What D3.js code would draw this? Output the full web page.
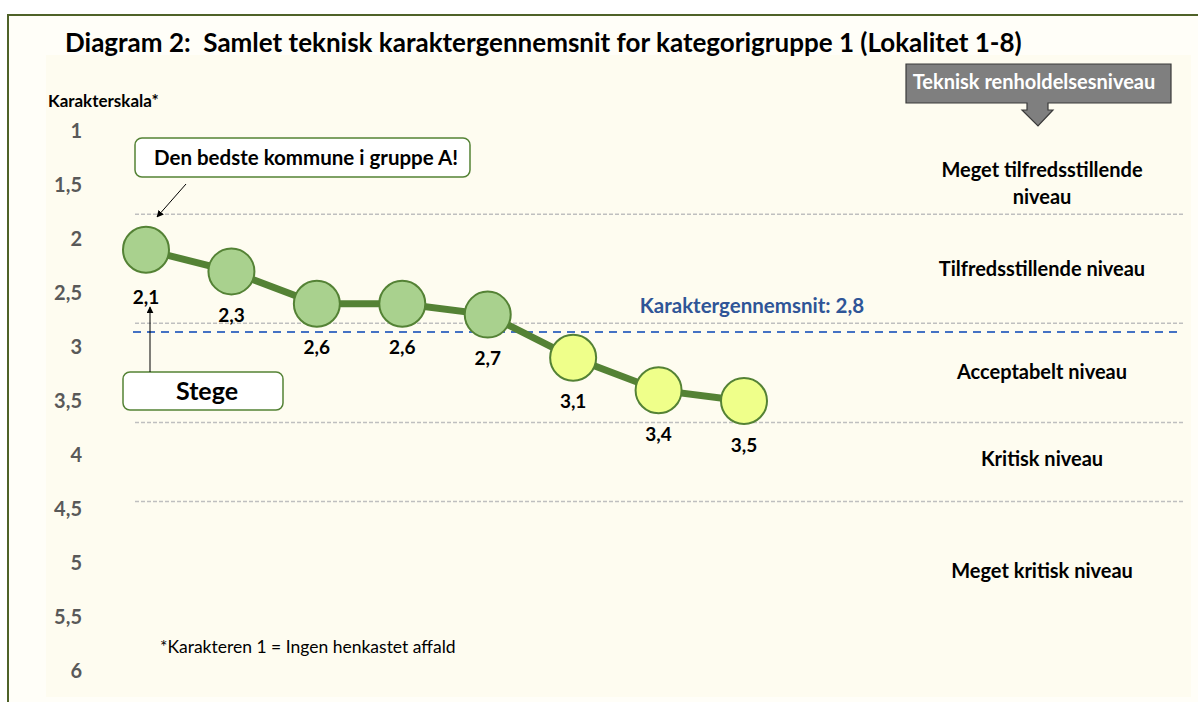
<!DOCTYPE html>
<html>
<head>
<meta charset="utf-8">
<script src="https://cdn.jsdelivr.net/npm/d3@7"></script>
<style>
  body { margin: 0; background: #ffffff; }
  text { font-family: Lato, 'Open Sans', sans-serif; white-space: pre; }
</style>
</head>
<body>
<script>
/* DATA */
var localities = ['L1', 'L2', 'L3', 'L4', 'L5', 'L6', 'L7', 'L8'];
var grades = [2.1, 2.3, 2.6, 2.6, 2.7, 3.1, 3.4, 3.5];
var gradeLabels = ['2,1', '2,3', '2,6', '2,6', '2,7', '3,1', '3,4', '3,5'];
var yTicks = [1, 1.5, 2, 2.5, 3, 3.5, 4, 4.5, 5, 5.5, 6];
var levelBounds = [1.77, 2.78, 3.70, 4.43];
var levelNames = [['Meget tilfredsstillende', 'niveau'], ['Tilfredsstillende niveau'], ['Acceptabelt niveau'], ['Kritisk niveau'], ['Meget kritisk niveau']];
var levelPos = [1.36, 2.28, 3.23, 4.04, 5.07];
var averageGrade = 2.86;
var averageLabel = 'Karaktergennemsnit: 2,8';

/* SETUP */
var width = 1198, height = 702;
var greenFill = '#a9d18e', yellowFill = '#efff8a', darkGreen = '#548235';

var y = d3.scaleLinear().domain([1, 6]).range([131, 671]);
var x = d3.scalePoint().domain(localities).range([146, 744]);

const svg = d3.select('body').append('svg')
    .attr('width', width)
    .attr('height', height);

// arrow marker
svg.append('defs').append('marker')
    .attr('id', 'arrow')
    .attr('viewBox', '0 0 10 10')
    .attr('refX', 9).attr('refY', 5)
    .attr('markerWidth', 7).attr('markerHeight', 7)
    .attr('orient', 'auto')
  .append('path')
    .attr('d', 'M0,0 L10,5 L0,10 z')
    .attr('fill', '#000');

// frame and backgrounds
svg.append('rect')
    .attr('x', 8).attr('y', 15)
    .attr('width', width).attr('height', height)
    .attr('fill', '#fffef8')
    .attr('stroke', '#4f6228')
    .attr('stroke-width', 2);

svg.append('rect')
    .attr('x', 46).attr('y', 55)
    .attr('width', 1145).attr('height', 642)
    .attr('fill', '#fefcf0');

svg.append('text')
    .attr('x', 65).attr('y', 52)
    .style('font-size', '26px')
    .style('font-weight', 'bold')
    .attr('fill', '#000')
    .text('Diagram 2:  Samlet teknisk karaktergennemsnit for kategorigruppe 1 (Lokalitet 1-8)');

// y axis labels
svg.append('text')
    .attr('x', 48).attr('y', 107)
    .style('font-size', '17px')
    .style('font-weight', 'bold')
    .text('Karakterskala*');

svg.append('g').selectAll('text')
    .data(yTicks)
    .join('text')
    .attr('x', 82)
    .attr('y', d => y(d))
    .attr('dy', '0.35em')
    .attr('text-anchor', 'end')
    .style('font-size', '20px')
    .style('font-weight', 'bold')
    .attr('fill', '#595959')
    .text(d => String(d).replace('.', ','));

// level boundaries
svg.append('g').selectAll('line')
    .data(levelBounds)
    .join('line')
    .attr('x1', 135).attr('x2', 1183)
    .attr('y1', d => y(d)).attr('y2', d => y(d))
    .attr('stroke', '#bfbfbf')
    .attr('stroke-width', 1.5)
    .attr('stroke-dasharray', '4,2');

// average line
svg.append('line')
    .attr('x1', 133).attr('x2', 1180)
    .attr('y1', y(averageGrade)).attr('y2', y(averageGrade))
    .attr('stroke', '#4472c4')
    .attr('stroke-width', 2)
    .attr('stroke-dasharray', '8,6');

svg.append('text')
    .attr('x', 752).attr('y', y(averageGrade) - 26)
    .attr('dy', '0.35em')
    .attr('text-anchor', 'middle')
    .style('font-size', '20.5px')
    .style('font-weight', 'bold')
    .attr('fill', '#2f5597')
    .text(averageLabel);

// level names
const levelText = svg.append('g').selectAll('text')
    .data(levelNames)
    .join('text')
    .attr('x', 1042)
    .attr('y', (d, i) => y(levelPos[i]))
    .attr('text-anchor', 'middle')
    .style('font-size', '20px')
    .style('font-weight', 'bold');
levelText.selectAll('tspan')
    .data(d => d)
    .join('tspan')
    .attr('x', 1042)
    .attr('dy', (d, i) => i === 0 ? '0.35em' : '27px')
    .text(d => d);

// header callout
svg.append('path')
    .attr('d', 'M906,64 H1171 V103 H1048 V110 H1053 L1038,126 L1022,110 H1027 V103 H906 Z')
    .attr('fill', '#7f7f7f')
    .attr('stroke', '#3a3a3a')
    .attr('stroke-width', 1.2);
svg.append('text')
    .attr('x', 1034).attr('y', 82)
    .attr('dy', '0.35em')
    .attr('text-anchor', 'middle')
    .style('font-size', '20px')
    .style('font-weight', 'bold')
    .attr('fill', '#ffffff')
    .text('Teknisk renholdelsesniveau');

// data line
svg.append('path')
    .datum(grades)
    .attr('fill', 'none')
    .attr('stroke', darkGreen)
    .attr('stroke-width', 7)
    .attr('d', d3.line().x((d, i) => x(localities[i])).y(d => y(d)));

svg.append('g').selectAll('circle')
    .data(grades)
    .join('circle')
    .attr('cx', (d, i) => x(localities[i]))
    .attr('cy', d => y(d))
    .attr('r', 23)
    .attr('fill', d => d <= averageGrade ? greenFill : yellowFill)
    .attr('stroke', darkGreen)
    .attr('stroke-width', 2);

svg.append('g').selectAll('text')
    .data(grades)
    .join('text')
    .attr('x', (d, i) => x(localities[i]))
    .attr('y', (d, i) => y(d) + (i === 0 ? 48 : 44))
    .attr('dy', '0.35em')
    .attr('text-anchor', 'middle')
    .style('font-size', '19px')
    .style('font-weight', 'bold')
    .text((d, i) => gradeLabels[i]);

// annotations
svg.append('rect')
    .attr('x', 135).attr('y', 138)
    .attr('width', 335).attr('height', 39)
    .attr('rx', 7)
    .attr('fill', '#ffffff')
    .attr('stroke', darkGreen)
    .attr('stroke-width', 1.5);
svg.append('text')
    .attr('x', 306).attr('y', 158)
    .attr('dy', '0.35em')
    .attr('text-anchor', 'middle')
    .style('font-size', '20.5px')
    .style('font-weight', 'bold')
    .text('Den bedste kommune i gruppe A!');
svg.append('line')
    .attr('x1', 186).attr('y1', 184)
    .attr('x2', 157).attr('y2', 217)
    .attr('stroke', '#000')
    .attr('stroke-width', 1)
    .attr('marker-end', 'url(#arrow)');

svg.append('rect')
    .attr('x', 123).attr('y', 372)
    .attr('width', 160).attr('height', 38)
    .attr('rx', 7)
    .attr('fill', '#ffffff')
    .attr('stroke', darkGreen)
    .attr('stroke-width', 1.5);
svg.append('text')
    .attr('x', 207).attr('y', 391)
    .attr('dy', '0.35em')
    .attr('text-anchor', 'middle')
    .style('font-size', '25px')
    .style('font-weight', 'bold')
    .text('Stege');
svg.append('line')
    .attr('x1', 150).attr('y1', 372)
    .attr('x2', 150).attr('y2', 307)
    .attr('stroke', '#000')
    .attr('stroke-width', 1)
    .attr('marker-end', 'url(#arrow)');

// footnote
svg.append('text')
    .attr('x', 160).attr('y', 653)
    .style('font-size', '17.5px')
    .text('*Karakteren 1 = Ingen henkastet affald');
</script>
</body>
</html>
